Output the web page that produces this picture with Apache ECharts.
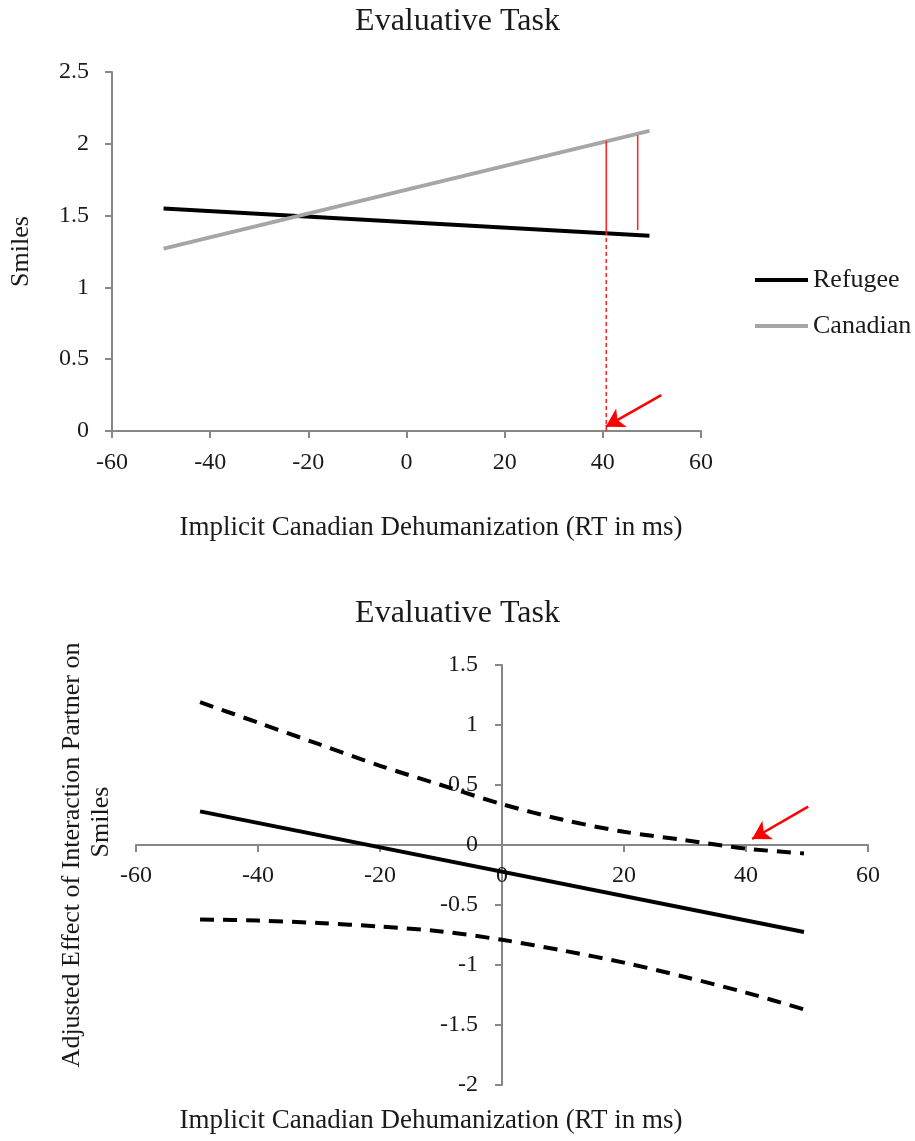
<!DOCTYPE html>
<html>
<head>
<meta charset="utf-8">
<script src="https://cdn.jsdelivr.net/npm/echarts@6/dist/echarts.min.js"></script>
<style>html,body{margin:0;padding:0;background:#fff;}#c{width:915px;height:1141px;}</style>
</head>
<body>
<div id="c"></div>
<script>
// ---- data ----
const chartTitle = 'Evaluative Task';
const xName = 'Implicit Canadian Dehumanization (RT in ms)';
const topYName = 'Smiles';
const botYName1 = 'Adjusted Effect of Interaction Partner on';
const botYName2 = 'Smiles';
const seriesNames = ['Refugee', 'Canadian'];

const topX = [-49.5, 49.5];
const refugee = [1.55, 1.36];
const canadian = [1.27, 2.09];
const redSolid1 = [[40.7, 1.38], [40.7, 2.02]];
const redSolid2 = [[47.1, 1.40], [47.1, 2.06]];
const redDashed = [[40.7, 0], [40.7, 1.38]];
const topArrow = [[51.9, 0.25], [40.6, 0.03]];

const botX = [-49.5, -40, -30, -20, -10, 0, 10, 20, 30, 40, 49.5];
const upperCI = [1.19, 1.02, 0.84, 0.66, 0.50, 0.34, 0.21, 0.11, 0.04, -0.03, -0.07];
const lowerCI = [-0.62, -0.63, -0.65, -0.68, -0.72, -0.79, -0.88, -0.98, -1.10, -1.23, -1.37];
const effectX = [-49.5, 49.5];
const effect = [0.28, -0.725];
const botArrow = [[50.2, 0.32], [41.0, 0.05]];

const topXTicks = {min: -60, max: 60, interval: 20};
const topYTicks = {min: 0, max: 2.5, interval: 0.5};
const botXTicks = {min: -60, max: 60, interval: 20};
const botYTicks = {min: -2, max: 1.5, interval: 0.5};

// ---- layout ----
const topGrid = {left: 108, top: 72, width: 593, height: 359};
const botGrid = {left: 136, top: 665, width: 732, height: 420};
// bottom axes cross at zero: shift them from the grid edge to the zero position
const botXOffset = -((0 - botYTicks.min) / (botYTicks.max - botYTicks.min)) * botGrid.height;
const botYOffset = -((0 - botXTicks.min) / (botXTicks.max - botXTicks.min)) * botGrid.width;

const FONT = 'Liberation Serif';
const TXT = '#1a1a1a';
const AX = '#878787';
const zip = (xs, ys) => xs.map((x, i) => [x, ys[i]]);

function axis(extra, margin) {
  return Object.assign({
    type: 'value',
    splitLine: {show: false},
    axisLine: {show: true, onZero: false, lineStyle: {color: AX, width: 2}},
    axisTick: {show: true, inside: false, length: 7, lineStyle: {color: AX, width: 2}},
    axisLabel: {fontFamily: FONT, fontSize: 24, color: TXT, margin: margin},
  }, extra);
}

const chart = echarts.init(document.getElementById('c'), null, {renderer: 'canvas'});
chart.setOption({
  animation: false,
  backgroundColor: '#fff',
  title: [
    {text: chartTitle, left: 'center', top: 1, textStyle: {fontFamily: FONT, fontSize: 32, fontWeight: 'normal', color: TXT}},
    {text: chartTitle, left: 'center', top: 593, textStyle: {fontFamily: FONT, fontSize: 32, fontWeight: 'normal', color: TXT}}
  ],
  legend: {
    data: seriesNames,
    orient: 'vertical',
    left: 750, top: 262,
    icon: 'rect', itemWidth: 53, itemHeight: 4, itemGap: 20,
    textStyle: {fontFamily: FONT, fontSize: 26, color: TXT}
  },
  grid: [topGrid, botGrid],
  xAxis: [
    axis(Object.assign({gridIndex: 0, position: 'bottom'}, topXTicks), 20),
    axis(Object.assign({gridIndex: 1, position: 'bottom', offset: botXOffset}, botXTicks), 19)
  ],
  yAxis: [
    axis(Object.assign({gridIndex: 0, position: 'left', name: topYName, nameLocation: 'middle', nameGap: 78, nameRotate: 90,
      nameTextStyle: {fontFamily: FONT, fontSize: 26, color: TXT}}, topYTicks), 23),
    axis(Object.assign({gridIndex: 1, position: 'left', offset: botYOffset}, botYTicks), 24)
  ],
  graphic: [
    {type: 'text', x: 431, y: 528, style: {text: xName, font: '27px "Liberation Serif"', fill: TXT, align: 'center', verticalAlign: 'middle'}},
    {type: 'text', x: 431, y: 1121, style: {text: xName, font: '27px "Liberation Serif"', fill: TXT, align: 'center', verticalAlign: 'middle'}},
    {type: 'text', x: 72, y: 855, rotation: Math.PI / 2, style: {text: botYName1, font: '26px "Liberation Serif"', fill: TXT, align: 'center', verticalAlign: 'middle'}},
    {type: 'text', x: 101, y: 822, rotation: Math.PI / 2, style: {text: botYName2, font: '26px "Liberation Serif"', fill: TXT, align: 'center', verticalAlign: 'middle'}}
  ],
  series: [
    {name: seriesNames[0], type: 'line', xAxisIndex: 0, yAxisIndex: 0, data: zip(topX, refugee), showSymbol: false,
      lineStyle: {color: '#000', width: 4}, itemStyle: {color: '#000'}},
    {name: seriesNames[1], type: 'line', xAxisIndex: 0, yAxisIndex: 0, data: zip(topX, canadian), showSymbol: false,
      lineStyle: {color: '#a6a6a6', width: 4}, itemStyle: {color: '#a6a6a6'}},
    {name: 'r1', type: 'line', xAxisIndex: 0, yAxisIndex: 0, data: redSolid1, showSymbol: false, lineStyle: {color: '#ff2020', width: 1.5}},
    {name: 'r2', type: 'line', xAxisIndex: 0, yAxisIndex: 0, data: redSolid2, showSymbol: false, lineStyle: {color: '#ff2020', width: 1.5}},
    {name: 'r3', type: 'line', xAxisIndex: 0, yAxisIndex: 0, data: redDashed, showSymbol: false, lineStyle: {color: '#ff2020', width: 1.5, type: [4, 3]},
      markLine: {silent: true, symbol: ['none', 'arrow'], symbolSize: [16, 18], label: {show: false},
        lineStyle: {color: '#ff0000', width: 2.5, type: 'solid'},
        data: [[{coord: topArrow[0]}, {coord: topArrow[1]}]]}},
    {name: 'upper', type: 'line', xAxisIndex: 1, yAxisIndex: 1, data: zip(botX, upperCI), showSymbol: false, smooth: 0.3,
      lineStyle: {color: '#000', width: 4, type: [14, 9]}},
    {name: 'lower', type: 'line', xAxisIndex: 1, yAxisIndex: 1, data: zip(botX, lowerCI), showSymbol: false, smooth: 0.3,
      lineStyle: {color: '#000', width: 4, type: [14, 9]}},
    {name: 'effect', type: 'line', xAxisIndex: 1, yAxisIndex: 1, data: zip(effectX, effect), showSymbol: false,
      lineStyle: {color: '#000', width: 4},
      markLine: {silent: true, symbol: ['none', 'arrow'], symbolSize: [16, 18], label: {show: false},
        lineStyle: {color: '#ff0000', width: 2.5, type: 'solid'},
        data: [[{coord: botArrow[0]}, {coord: botArrow[1]}]]}}
  ]
});
</script>
</body>
</html>
